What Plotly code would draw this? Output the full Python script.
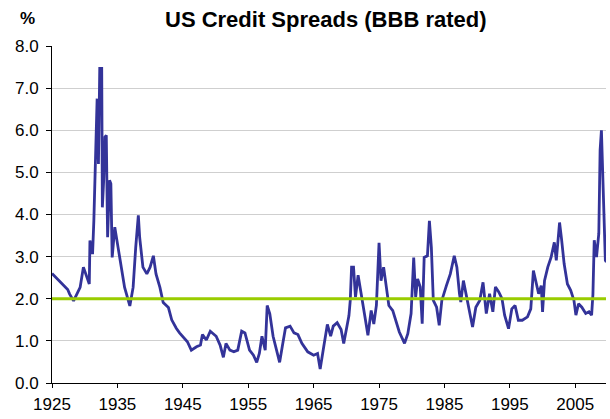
import plotly.graph_objects as go

# BBB corporate bond spread over Treasuries, % (decimal years)
years = [
    1925.0, 1925.5, 1926.2, 1926.9, 1927.4, 1927.7, 1928.3, 1928.8, 1929.3, 1929.8,
    1930.3, 1930.7, 1930.8, 1931.2, 1931.4, 1931.7, 1931.9, 1932.1, 1932.3, 1932.6,
    1932.7, 1932.9, 1933.1, 1933.3, 1933.5, 1933.8, 1934.0, 1934.2, 1934.6, 1935.1,
    1935.6, 1936.1, 1936.9, 1937.4, 1937.8, 1938.2, 1938.4, 1938.9, 1939.5, 1940.0,
    1940.5, 1940.9, 1941.5, 1942.0, 1942.8, 1943.3, 1944.0, 1944.5, 1945.7, 1946.3,
    1947.1, 1947.7, 1948.0, 1948.6, 1949.2, 1950.1, 1950.7, 1951.2, 1951.6, 1952.2,
    1952.8, 1953.4, 1954.0, 1954.5, 1955.2, 1955.8, 1956.3, 1956.7, 1957.1, 1957.6,
    1957.9, 1958.3, 1958.8, 1959.3, 1959.8, 1960.2, 1960.7, 1961.4, 1962.0, 1962.6,
    1963.2, 1964.1, 1965.0, 1965.6, 1966.0, 1966.5, 1967.1, 1967.6, 1968.0, 1968.6,
    1969.2, 1969.6, 1970.1, 1970.4, 1970.6, 1970.8, 1971.1, 1971.4, 1971.8, 1972.3,
    1972.9, 1973.3, 1973.8, 1974.2, 1974.6, 1975.0, 1975.3, 1975.7, 1976.1, 1976.5,
    1977.1, 1977.6, 1978.1, 1978.9, 1979.4, 1979.9, 1980.3, 1980.6, 1980.9, 1981.3,
    1981.6, 1981.9, 1982.4, 1982.7, 1983.0, 1983.3, 1983.8, 1984.2, 1984.6, 1985.3,
    1985.9, 1986.5, 1986.9, 1987.3, 1987.5, 1987.9, 1988.3, 1988.8, 1989.3, 1989.8,
    1990.4, 1990.9, 1991.4, 1991.9, 1992.4, 1992.8, 1993.3, 1993.8, 1994.2, 1994.8,
    1995.3, 1995.8, 1996.3, 1996.9, 1997.7, 1998.2, 1998.6, 1999.0, 1999.4, 1999.8,
    2000.0, 2000.3, 2000.8, 2001.3, 2001.8, 2002.1, 2002.6, 2002.9, 2003.3, 2003.8,
    2004.3, 2004.8, 2005.1, 2005.5, 2006.0, 2006.6, 2007.1, 2007.5, 2007.7, 2007.9,
    2008.25, 2008.6, 2008.8, 2009.0, 2009.2, 2009.4, 2009.6, 2009.75,
]
spreads = [
    2.60, 2.52, 2.43, 2.31, 2.22, 2.11, 1.95, 2.11, 2.27, 2.75,
    2.51, 2.35, 3.38, 3.06, 3.86, 5.44, 6.75, 5.20, 7.47, 7.47,
    4.17, 4.81, 5.84, 5.88, 3.46, 4.81, 4.73, 2.98, 3.70, 3.22,
    2.75, 2.27, 1.83, 2.27, 3.22, 3.98, 3.46, 2.75, 2.59, 2.75,
    3.02, 2.59, 2.27, 1.91, 1.79, 1.50, 1.30, 1.19, 0.98, 0.78,
    0.86, 0.90, 1.15, 1.02, 1.23, 1.11, 0.90, 0.61, 0.94, 0.78,
    0.74, 0.78, 1.23, 1.19, 0.78, 0.66, 0.49, 0.70, 1.11, 0.78,
    1.84, 1.64, 1.11, 0.78, 0.49, 0.86, 1.31, 1.35, 1.19, 1.15,
    0.94, 0.74, 0.66, 0.70, 0.33, 0.82, 1.39, 1.11, 1.35, 1.43,
    1.27, 0.94, 1.39, 1.60, 1.96, 2.75, 2.75, 2.04, 2.56, 2.04,
    1.52, 1.13, 1.72, 1.40, 1.85, 3.33, 2.43, 2.75, 2.35, 1.84,
    1.72, 1.49, 1.21, 0.94, 1.17, 1.65, 2.98, 2.04, 2.47, 2.28,
    1.41, 2.98, 3.02, 3.85, 3.22, 1.96, 1.80, 1.37, 1.96, 2.31,
    2.59, 3.02, 2.75, 2.12, 1.92, 2.43, 2.08, 1.72, 1.33, 1.80,
    1.96, 2.39, 1.65, 2.12, 1.69, 2.28, 2.16, 2.00, 1.61, 1.29,
    1.76, 1.84, 1.49, 1.49, 1.57, 1.76, 2.67, 2.43, 2.12, 2.31,
    1.69, 2.43, 2.75, 2.98, 3.34, 2.91, 3.81, 3.42, 2.83, 2.35,
    2.20, 1.96, 1.61, 1.88, 1.80, 1.65, 1.69, 1.61, 2.10, 3.39,
    2.99, 3.55, 5.53, 6.00, 5.13, 3.79, 2.91, 2.87,
]

reference_level = 2.0
x_ticks = [1925, 1935, 1945, 1955, 1965, 1975, 1985, 1995, 2005]

font_family = "Liberation Sans, Arial, sans-serif"

fig = go.Figure()
fig.add_trace(go.Scatter(
    x=years, y=spreads, mode="lines",
    line=dict(color="#333399", width=2.8),
    showlegend=False, hoverinfo="skip",
))

# horizontal 2% reference line drawn on top of the series
fig.add_shape(
    type="line", xref="paper", yref="y",
    x0=0, x1=1, y0=reference_level, y1=reference_level,
    line=dict(color="#99CC00", width=3), layer="above",
)

fig.add_annotation(
    text="<b>US Credit Spreads (BBB rated)</b>",
    xref="paper", yref="paper", x=0.495, y=1, yshift=27,
    xanchor="center", yanchor="middle",
    showarrow=False, font=dict(size=22, color="#000000", family=font_family),
)
fig.add_annotation(
    text="<b>%</b>", xref="paper", yref="paper", x=0, xshift=-25,
    y=1, yshift=28, xanchor="center", yanchor="middle", showarrow=False,
    font=dict(size=17, color="#000000", family=font_family),
)

fig.update_layout(
    width=610, height=419,
    margin=dict(l=52, r=4, t=46, b=36),
    paper_bgcolor="white", plot_bgcolor="white",
    font=dict(family=font_family, size=17, color="#000000"),
    xaxis=dict(
        range=[1925, 2009.7], tickvals=x_ticks, tickformat="d",
        showgrid=False, zeroline=False,
        showline=True, linecolor="#000000", linewidth=1,
        ticks="outside", ticklen=4, tickcolor="#000000",
        ticklabelstandoff=2,
    ),
    yaxis=dict(
        range=[0, 8], dtick=1, tickformat=".1f",
        showgrid=True, gridcolor="#CFCFCF", gridwidth=1,
        zeroline=False,
        showline=True, linecolor="#000000", linewidth=1,
        ticks="outside", ticklen=5, tickcolor="#000000",
        ticklabelstandoff=4,
    ),
)

fig.write_html("out.html")
